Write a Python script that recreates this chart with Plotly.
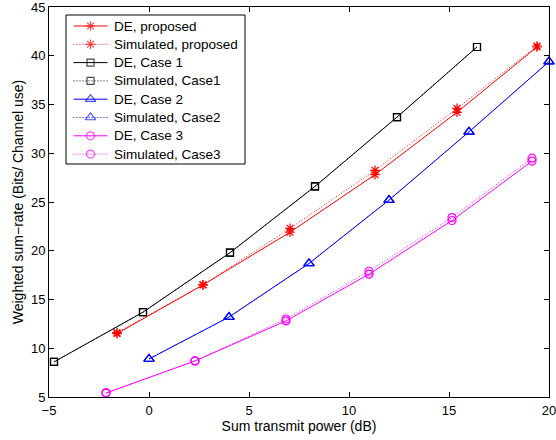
import plotly.graph_objects as go

# Data
x_prop = [-1.6, 2.7, 7.05, 11.3, 15.4, 19.4]
y_de_prop = [11.5, 16.5, 21.9, 27.8, 34.2, 40.9]
y_sim_prop = [11.6, 16.5, 22.3, 28.25, 34.6, 41.0]

x_case1 = [-4.75, -0.3, 4.05, 8.3, 12.4, 16.4]
y_de_case1 = [8.6, 13.7, 19.8, 26.6, 33.7, 40.9]
y_sim_case1 = [8.6, 13.7, 19.8, 26.6, 33.7, 40.9]

x_case2 = [0.0, 4.0, 8.0, 12.0, 16.0, 20.0]
y_de_case2 = [8.9, 13.2, 18.7, 25.2, 32.2, 39.4]
y_sim_case2 = [8.9, 13.2, 18.7, 25.2, 32.2, 39.4]

x_case3 = [-2.15, 2.3, 6.85, 11.0, 15.15, 19.15]
y_de_case3 = [5.4, 8.7, 12.8, 17.6, 23.1, 29.2]
y_sim_case3 = [5.45, 8.7, 13.0, 17.9, 23.4, 29.5]

x_ticks = [-5, 0, 5, 10, 15, 20]
y_ticks = [5, 10, 15, 20, 25, 30, 35, 40, 45]

series_names = ["DE, proposed", "Simulated, proposed", "DE, Case 1", "Simulated, Case1",
                "DE, Case 2", "Simulated, Case2", "DE, Case 3", "Simulated, Case3"]

RED = "#ff0000"
BLACK = "#000000"
BLUE = "#0000ff"
MAGENTA = "#ff00ff"
DOT = "1px,2px"

styles = [
    (RED, "asterisk-open", "solid", 8),
    (RED, "asterisk-open", DOT, 8),
    (BLACK, "square-open", "solid", 7),
    (BLACK, "square-open", DOT, 7),
    (BLUE, "triangle-up-open", "solid", 9),
    (BLUE, "triangle-up-open", DOT, 9),
    (MAGENTA, "circle-open", "solid", 8),
    (MAGENTA, "circle-open", DOT, 8),
]
data = [
    (x_prop, y_de_prop), (x_prop, y_sim_prop),
    (x_case1, y_de_case1), (x_case1, y_sim_case1),
    (x_case2, y_de_case2), (x_case2, y_sim_case2),
    (x_case3, y_de_case3), (x_case3, y_sim_case3),
]

fig = go.Figure()

for (x, y), name, (color, symbol, dash, size) in zip(data, series_names, styles):
    fig.add_trace(go.Scatter(
        x=x, y=y, name=name, mode="lines+markers", cliponaxis=False,
        line=dict(color=color, width=1, dash=dash),
        marker=dict(symbol=symbol, size=size, color=color,
                    line=dict(color=color, width=1.2)),
        showlegend=False,
    ))

# ---- MATLAB-style legend box drawn on an overlay axis in plot-area fractions ----
PLOT_L, PLOT_R, PLOT_T, PLOT_B = 49, 549, 7, 397
def fx(px):
    return (px - PLOT_L) / (PLOT_R - PLOT_L)
def fy(py):
    return (PLOT_B - py) / (PLOT_B - PLOT_T)

box_l, box_r, box_t, box_b = 66, 245, 15, 164
row0, row_step = 26.0, 18.3
line_l, line_r, text_x = 73.5, 107.5, 112

fig.add_shape(type="rect", xref="paper", yref="paper",
              x0=fx(box_l), x1=fx(box_r), y0=fy(box_b), y1=fy(box_t),
              line=dict(color="black", width=1), fillcolor="white", layer="below")

for i, (name, (color, symbol, dash, size)) in enumerate(zip(series_names, styles)):
    ry = fy(row0 + i * row_step)
    fig.add_trace(go.Scatter(
        x=[fx(line_l), fx((line_l + line_r) / 2), fx(line_r)], y=[ry, ry, ry],
        xaxis="x2", yaxis="y2", mode="lines+markers", hoverinfo="skip",
        line=dict(color=color, width=1, dash=dash),
        marker=dict(symbol=symbol, size=[0, size, 0], color=color,
                    line=dict(color=color, width=1.2)),
        showlegend=False, cliponaxis=False,
    ))
    fig.add_annotation(x=fx(text_x), y=ry, xref="paper", yref="paper",
                       text=name, showarrow=False, xanchor="left", yanchor="middle",
                       font=dict(size=13.5, color="black"))

axis_common = dict(
    showgrid=False, zeroline=False, showline=True, linecolor="black",
    linewidth=1, mirror="ticks", ticks="inside", ticklen=5,
    tickcolor="black", tickfont=dict(size=13, color="black"),
    title_font=dict(size=14, color="black"), automargin=False,
    ticklabeloverflow="allow",
)

fig.update_layout(
    width=556, height=440,
    margin=dict(l=49, r=7, t=7, b=43),
    paper_bgcolor="white", plot_bgcolor="white",
    font=dict(family="Liberation Sans, Arial, sans-serif", color="black"),
    xaxis=dict(range=[-5, 20], tickvals=x_ticks, ticklabelstandoff=1,
               title=dict(text="Sum transmit power (dB)", standoff=0),
               **axis_common),
    yaxis=dict(range=[5, 45], tickvals=y_ticks,
               title=dict(text="Weighted sum\u2212rate (Bits/ Channel use)", standoff=4),
               **axis_common),
    xaxis2=dict(overlaying="x", range=[0, 1], visible=False, fixedrange=True),
    yaxis2=dict(overlaying="y", range=[0, 1], visible=False, fixedrange=True),
    showlegend=False,
)

fig.write_html(
    "out.html",
    config={"displayModeBar": False},
    post_script="document.body.style.margin='0';document.body.style.overflow='hidden';",
)
